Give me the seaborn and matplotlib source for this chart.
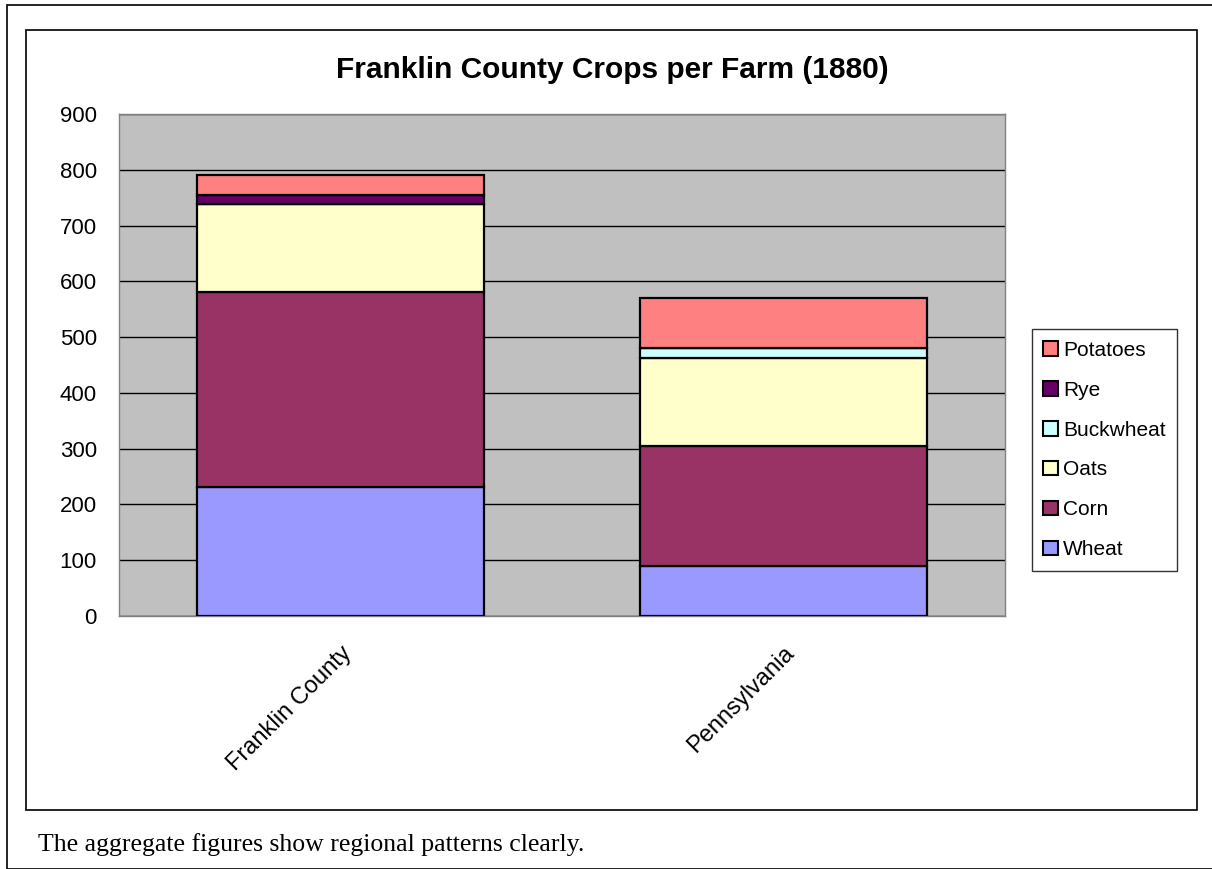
import matplotlib
matplotlib.use("Agg")
import matplotlib.pyplot as plt
import numpy as np
import pandas as pd
import seaborn as sns
from matplotlib.patches import Rectangle

# values (per farm, 1880)
regions = ["Franklin County", "Pennsylvania"]
crops = ["Wheat", "Corn", "Oats", "Buckwheat", "Rye", "Potatoes"]
wheat = [232, 90]
corn = [348, 215]
oats = [158, 158]
buckwheat = [0, 17]
rye = [17, 0]
potatoes = [36, 91]
colors = ["#9999FF", "#993366", "#FFFFCC", "#CCFFFF", "#660066", "#FF8080"]
yticks = list(range(0, 1000, 100))

df = pd.DataFrame({"Region": regions, "Wheat": wheat, "Corn": corn, "Oats": oats,
                   "Buckwheat": buckwheat, "Rye": rye, "Potatoes": potatoes})

sns.set_style("white")
plt.rcParams["font.family"] = ["Liberation Sans", "DejaVu Sans"]
plt.rcParams["text.color"] = "black"
plt.rcParams["xtick.color"] = "black"
plt.rcParams["ytick.color"] = "black"

fig = plt.figure(figsize=(12.12, 8.69), dpi=100)
W, H = 1212, 869
ax = fig.add_axes([119 / W, 1 - 616 / H, 886 / W, 502 / H])

bottom = np.zeros(len(regions))
for crop, col in zip(crops, colors):
    vals = df[crop].to_numpy()
    sns.barplot(data=df, x="Region", y=crop, bottom=bottom, color=col,
                saturation=1, edgecolor="black", linewidth=1.6, width=0.646,
                ax=ax, label=crop, zorder=3)
    bottom = bottom + vals

ax.set_facecolor("#C0C0C0")
ax.set_ylim(0, 900)
ax.set_xlim(-0.5, 1.5)
ax.set_yticks(yticks)
ax.set_yticklabels([str(t) for t in yticks], fontsize=16)
ax.yaxis.grid(True, color="black", linewidth=1, zorder=0)
ax.set_axisbelow(True)
ax.tick_params(axis="y", length=0, pad=16)
ax.tick_params(axis="x", length=0, pad=19)
ax.set_xticks(range(len(regions)))
ax.set_xticklabels(regions, rotation=45, ha="right", va="top",
                   rotation_mode="anchor", fontsize=17)
ax.set_xlabel("")
ax.set_ylabel("")
for side in ["top", "right", "left", "bottom"]:
    ax.spines[side].set_color("#808080")
    ax.spines[side].set_linewidth(1)

handles, labels = ax.get_legend_handles_labels()
leg = ax.legend(handles[::-1], labels[::-1], loc="center left",
                bbox_to_anchor=((1032 - 119) / 886, (616 - 450) / 502),
                frameon=True, fancybox=False, edgecolor="black", fontsize=15,
                handlelength=0.7, handleheight=0.7, handletextpad=0.25,
                labelspacing=1.0, borderpad=0.55, borderaxespad=0)
leg.get_frame().set_linewidth(1)
for h in leg.legend_handles:
    h.set_edgecolor("black")
    h.set_linewidth(1.5)

fig.text(612 / W, 1 - 70 / H, "Franklin County Crops per Farm (1880)",
         ha="center", va="center", fontsize=21.5, fontweight="bold")

# outer frames
fig.patches.append(Rectangle((7 / W, 0), 1.2, 1 - 5 / H, transform=fig.transFigure,
                             fill=False, edgecolor="black", linewidth=1.2))
fig.patches.append(Rectangle((26 / W, 1 - 810 / H), (1197 - 26) / W, (810 - 30) / H,
                             transform=fig.transFigure, fill=False,
                             edgecolor="black", linewidth=1.2))

fig.text(38 / W, 1 - 845 / H, "The aggregate figures show regional patterns clearly.",
         ha="left", va="center", fontsize=18.5, family=["Liberation Serif", "DejaVu Serif"])

fig.savefig("out.png", dpi=100, facecolor="white")
